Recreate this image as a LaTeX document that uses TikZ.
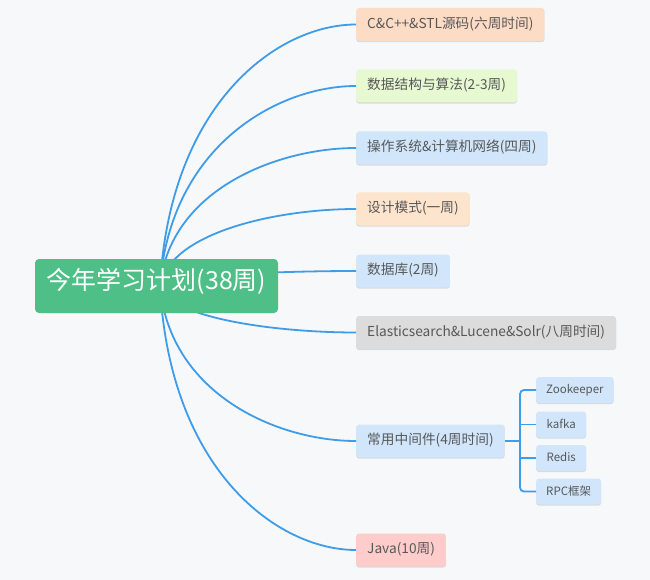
\documentclass[tikz,border=0pt]{standalone}
\usepackage{fontspec}
\setmainfont{Noto Sans CJK SC}
\usetikzlibrary{shadows,calc}
\definecolor{bgc}{HTML}{F7F8F9}
\definecolor{txt}{HTML}{585858}
\definecolor{linec}{HTML}{3F9CE9}
\definecolor{rootc}{HTML}{4EBF86}
\definecolor{corange}{HTML}{FDDCC6}
\definecolor{cgreen}{HTML}{E6F9D1}
\definecolor{cblue}{HTML}{D1E6FB}
\definecolor{clorange}{HTML}{FDE4CD}
\definecolor{cgray}{HTML}{DCDCDC}
\definecolor{cpink}{HTML}{FDCCCB}
\begin{document}
\begin{tikzpicture}[x=1pt,y=-1pt,
  box/.style={draw=none, rounded corners=3pt, anchor=west, minimum height=33pt,
    inner xsep=11pt, inner ysep=0pt, font=\fontsize{13.7}{16}\selectfont, text=txt,
    text height=0.86em, text depth=0.12em,
    drop shadow={shadow xshift=0pt, shadow yshift=-1.2pt, opacity=0.12, fill=black}},
  sub/.style={box, minimum height=26pt, minimum width=50pt, inner xsep=10pt,
    font=\fontsize{11.5}{13}\selectfont},
  rootbox/.style={fill=rootc, text=white, rounded corners=4pt, minimum width=243pt,
    minimum height=54pt, inner sep=0pt, font=\fontsize{25}{29}\selectfont,
    text height=0.86em, text depth=0.12em},
  link/.style={draw=linec, line width=1.8pt}
]
\fill[bgc] (0,0) rectangle (650,580);
\useasboundingbox (0,0) rectangle (650,580);

\node[box, fill=corange] (n1) at (356,24.5) {C\&C++\&STL源码(六周时间)};
\node[box, fill=cgreen] (n2) at (356,86) {数据结构与算法(2-3周)};
\node[box, fill=cblue] (n3) at (356,148) {操作系统\&计算机网络(四周)};
\node[box, fill=clorange] (n4) at (356,209) {设计模式(一周)};
\node[box, fill=cblue] (n5) at (356,271) {数据库(2周)};
\node[box, fill=cgray] (n6) at (356,332.5) {Elasticsearch\&Lucene\&Solr(八周时间)};
\node[box, fill=cblue] (n7) at (356,441) {常用中间件(4周时间)};
\node[box, fill=cpink] (n8) at (356,550) {Java(10周)};

\node[sub, fill=cblue] (s1) at (536,390) {Zookeeper};
\node[sub, fill=cblue] (s2) at (536,424.5) {kafka};
\node[sub, fill=cblue] (s3) at (536,458) {Redis};
\node[sub, fill=cblue] (s4) at (536,491.5) {RPC框架};

\coordinate (o) at (160,286);
\foreach \t in {n1,n2,n3,n4,n5,n6,n7,n8}{
  \draw[link] let \p1=(o), \p2=(\t.west) in
    (o) .. controls ({\x1+0.05*(\x2-\x1)},{\y1+0.7*(\y2-\y1)})
            and ({\x2-0.4*(\x2-\x1)},{\y2}) .. (\t.west);
}

\node[rootbox] (r) at (156.5,286) {今年学习计划(38周)};

\coordinate (br) at (520,441);
\draw[link] (n7.east) -- (br);
\draw[link, rounded corners=4pt] (s1.west) -- (s1.west -| br) -- (s4.west -| br) -- (s4.west);
\draw[link] (s2.west -| br) -- (s2.west);
\draw[link] (s3.west -| br) -- (s3.west);
\end{tikzpicture}
\end{document}
